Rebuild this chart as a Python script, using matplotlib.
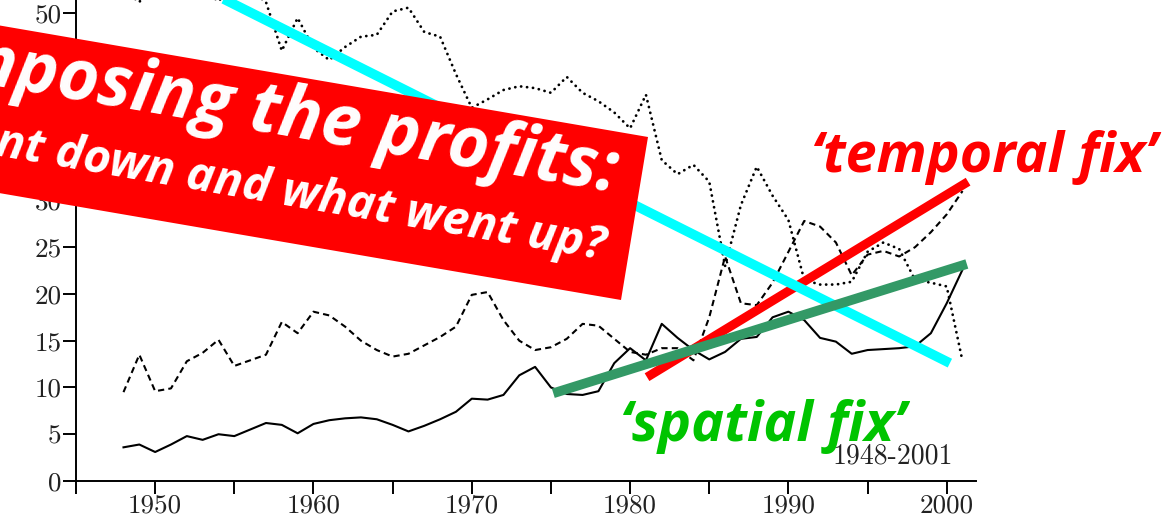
import matplotlib
matplotlib.use("Agg")
import matplotlib.pyplot as plt
from matplotlib.patches import Polygon
from matplotlib.ticker import MultipleLocator
import numpy as np

W, H = 1165, 520

years = list(range(1948, 2002))
solid = [3.6, 3.9, 3.1, 3.9, 4.8, 4.4, 5.0, 4.8, 5.5, 6.2,
         6.0, 5.1, 6.1, 6.5, 6.7, 6.8, 6.6, 6.0, 5.3, 5.9,
         6.6, 7.4, 8.8, 8.7, 9.2, 11.3, 12.2, 10.0, 9.3, 9.2,
         9.6, 12.6, 14.2, 12.9, 16.8, 15.3, 14.0, 13.0, 13.8, 15.2,
         15.4, 17.5, 18.1, 17.2, 15.3, 14.9, 13.6, 14.0, 14.1, 14.2,
         14.4, 15.8, 19.0, 22.6]
dashed = [9.5, 13.5, 9.6, 9.9, 12.8, 13.7, 15.1, 12.3, 12.9, 13.5,
          17.0, 15.8, 18.1, 17.7, 16.5, 15.0, 14.0, 13.3, 13.6, 14.5,
          15.4, 16.5, 19.9, 20.2, 17.2, 15.0, 14.0, 14.3, 15.2, 16.8,
          16.6, 15.2, 13.8, 13.5, 14.2, 14.2, 12.9, 17.5, 24.0, 19.0,
          18.8, 21.2, 24.5, 27.8, 27.2, 25.5, 22.0, 24.2, 24.6, 24.0,
          25.0, 26.6, 28.5, 31.0]
dotted = [52.5, 51.2, 53.5, 54.5, 53.5, 52.5, 51.3, 53.0, 52.5, 51.2,
          46.0, 49.5, 46.3, 45.0, 46.4, 47.5, 47.7, 50.2, 50.6, 48.0,
          47.5, 43.5, 39.9, 40.8, 41.8, 42.2, 42.0, 41.5, 43.2, 41.5,
          40.6, 39.4, 37.7, 41.3, 34.3, 32.8, 33.8, 32.0, 23.0, 29.5,
          33.6, 30.5, 27.9, 21.5, 21.0, 21.0, 21.3, 24.5, 25.5, 24.8,
          21.5, 21.2, 20.8, 12.8]

# hand-drawn trend lines: (year, value) end points
down_x, down_y = [1950.0, 2000.2], [55.2, 12.6]            # cyan
temporal_x, temporal_y = [1981.07, 2001.35], [11.1, 32.0]  # red
spatial_x, spatial_y = [1975.15, 2001.27], [9.38, 23.2]    # green

x_ticks = list(range(1950, 2001, 10))
y_ticks = list(range(0, 51, 5))


def px(x, y):
    """pixel position (y down) -> figure fraction"""
    return x / W, 1 - y / H


fig = plt.figure(figsize=(W / 100, H / 100), dpi=100)
ax = fig.add_axes([76 / W, 39 / H, 900 / W, 481 / H])
ax.set_xlim(1945, 2001.85)
ax.set_ylim(0, 481 / 9.354)

ax.plot(years, solid, color="black", lw=1.5, zorder=2)
ax.plot(years, dashed, color="black", lw=1.5, ls=(0, (3.0, 2.0)), zorder=2)
ax.plot(years, dotted, color="black", lw=2.0, ls=(0, (0.05, 2.1)),
        dash_capstyle="round", zorder=2)

ax.plot(temporal_x, temporal_y, color="#ff0000", lw=6.5,
        solid_capstyle="butt", zorder=3)
ax.plot(down_x, down_y, color="#00ffff", lw=7, solid_capstyle="butt", zorder=4)
ax.plot(spatial_x, spatial_y, color="#339966", lw=7,
        solid_capstyle="butt", zorder=5)

for s in ("top", "right"):
    ax.spines[s].set_visible(False)
for s in ("left", "bottom"):
    ax.spines[s].set_linewidth(1.4)

ax.set_xticks(x_ticks, [str(t) for t in x_ticks])
ax.xaxis.set_minor_locator(MultipleLocator(5))
ax.set_yticks(y_ticks, [str(t) for t in y_ticks])
ax.tick_params(axis="x", which="both", direction="out", length=9, width=1.4,
               pad=0.5)
ax.tick_params(axis="y", direction="out", length=9.5, width=1.4, pad=1)
for lab in ax.get_xticklabels() + ax.get_yticklabels():
    lab.set_fontfamily("cmr10")
    lab.set_fontsize(19.5)
    lab.set_color("#222222")

fig.text(*px(833, 463), "1948-2001", family="cmr10", fontsize=20,
         color="#222222", ha="left", va="baseline", zorder=6)

# red banner
ang = np.deg2rad(9.76)
u = np.array([np.cos(ang), np.sin(ang)])
tr, br = np.array([648, 137]), np.array([621, 300])
corners = [tr, br, br - 900 * u, tr - 900 * u]
fig.patches.append(Polygon([px(*c) for c in corners], closed=True,
                           transform=fig.transFigure, facecolor="#ff0000",
                           edgecolor="none", zorder=10))

fig.text(*px(614, 192), "Decomposing the profits:", family="Open Sans",
         weight="bold", style="italic", fontsize=51, color="white",
         rotation=-9.76, rotation_mode="anchor", ha="right", va="baseline",
         zorder=11)
fig.text(*px(603, 260), "What went down and what went up?", family="Open Sans",
         weight="bold", style="italic", fontsize=34, color="white",
         rotation=-9.76, rotation_mode="anchor", ha="right", va="baseline",
         zorder=11)

fig.text(*px(984, 172), "\u2018temporal fix\u2019", family="Open Sans",
         weight="bold", style="italic", fontsize=40, color="#ff0000",
         ha="center", va="baseline", zorder=11)
fig.text(*px(763, 441), "\u2018spatial fix\u2019", family="Open Sans",
         weight="bold", style="italic", fontsize=40, color="#00c400",
         ha="center", va="baseline", zorder=11)

fig.savefig("out.png", dpi=100)
